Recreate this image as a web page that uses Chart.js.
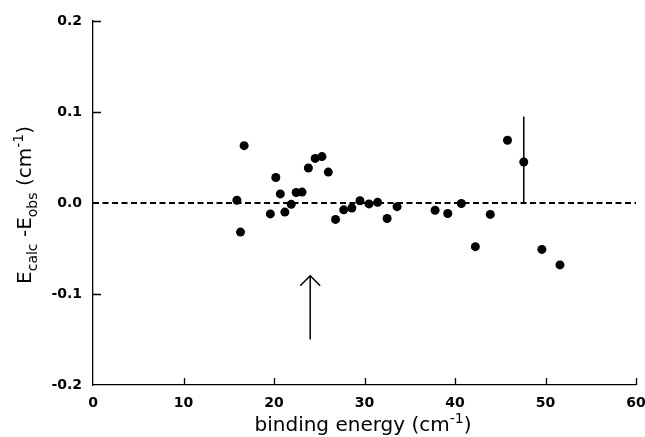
<!DOCTYPE html>
<html>
<head>
<meta charset="utf-8">
<script src="https://cdn.jsdelivr.net/npm/chart.js@4.4.1/dist/chart.umd.min.js"></script>
<style>
  html, body { margin: 0; background: #fff; }
  #wrap { width: 645px; height: 437px; }
</style>
</head>
<body>
<div id="wrap"><canvas id="myChart"></canvas></div>
<script>
// values
const bindingEnergy = [15.9, 16.3, 16.7, 19.6, 20.2, 20.7, 21.2, 21.9, 22.45, 23.1, 23.8, 24.55, 25.3, 26.0,
  26.8, 27.7, 28.6, 29.5, 30.5, 31.45, 32.5, 33.6, 37.8, 39.2, 40.7, 42.25, 43.9, 45.8, 47.6, 49.6, 51.6];
const residual = [0.003, -0.032, 0.063, -0.012, 0.028, 0.010, -0.010, -0.0015, 0.0115, 0.012, 0.0385, 0.049, 0.051, 0.034,
  -0.018, -0.0075, -0.0055, 0.0025, -0.001, 0.0007, -0.017, -0.004, -0.008, -0.0115, -0.0005, -0.048, -0.0125, 0.069, 0.045, -0.051, -0.068];

const xTicks = [0, 10, 20, 30, 40, 50, 60];
const yTicks = [-0.2, -0.1, 0.0, 0.1, 0.2];
const yTickLabels = ['-0.2', '-0.1', '0.0', '0.1', '0.2'];

// zero reference line, marker line at 47.6 and the arrow at 24
const zeroLineX = [0, 60];
const markerX = [47.6, 47.6];
const markerY = [0, 0.095];
const arrowX = [24, 24];
const arrowY = [-0.15, -0.08];
const arrowHeadX = [22.9, 24, 25.1];
const arrowHeadY = [-0.091, -0.08, -0.091];

const pts = (xs, ys) => xs.map((x, i) => ({ x: x, y: ys[i] }));

const tickFont = { family: 'DejaVu Sans', size: 14, weight: 'bold' };

function drawRich(ctx, parts, x, y, size) {
  const fontFor = p => (p.s ? Math.round(size * 0.68) : size) + 'px "DejaVu Sans"';
  let total = 0;
  parts.forEach(p => { ctx.font = fontFor(p); total += ctx.measureText(p.t).width; });
  let cx = x - total / 2;
  ctx.textAlign = 'left';
  ctx.textBaseline = 'alphabetic';
  parts.forEach(p => {
    ctx.font = fontFor(p);
    const dy = p.s === 'sub' ? size * 0.28 : p.s === 'sup' ? -size * 0.42 : 0;
    ctx.fillText(p.t, cx, y + dy);
    cx += ctx.measureText(p.t).width;
  });
}

const decorations = {
  id: 'decorations',
  afterDraw(chart) {
    const ctx = chart.ctx;
    const xs = chart.scales.x, ys = chart.scales.y;
    const area = chart.chartArea;
    ctx.save();
    ctx.strokeStyle = '#000';
    ctx.lineWidth = 1.3;
    ctx.beginPath();
    xTicks.slice(1).forEach(v => {
      const px = Math.round(xs.getPixelForValue(v)) + 0.5;
      ctx.moveTo(px, area.bottom);
      ctx.lineTo(px, area.bottom - 7);
    });
    [0.2, 0.1, -0.1].forEach(v => {
      const py = Math.round(ys.getPixelForValue(v)) + 0.5;
      ctx.moveTo(area.left, py);
      ctx.lineTo(area.left + 8, py);
    });
    ctx.stroke();

    ctx.fillStyle = '#000';
    drawRich(ctx, [{ t: 'binding energy (cm' }, { t: '-1', s: 'sup' }, { t: ')' }], 363, 431, 20);

    ctx.translate(31, 205);
    ctx.rotate(-Math.PI / 2);
    drawRich(ctx, [{ t: 'E' }, { t: 'calc', s: 'sub' }, { t: ' -E' }, { t: 'obs', s: 'sub' },
      { t: ' (cm' }, { t: '-1', s: 'sup' }, { t: ')' }], 0, 0, 20);
    ctx.restore();
  }
};

const ctx = document.getElementById('myChart');

new Chart(ctx, {
  type: 'scatter',
  data: {
    datasets: [
      {
        data: pts(zeroLineX, [0, 0]),
        showLine: true, borderColor: '#000', borderWidth: 1.8, borderDash: [6, 3.5],
        pointRadius: 0
      },
      {
        data: pts(markerX, markerY),
        showLine: true, borderColor: '#000', borderWidth: 1.5, pointRadius: 0
      },
      {
        data: pts(arrowX, arrowY),
        showLine: true, borderColor: '#000', borderWidth: 1.5, pointRadius: 0
      },
      {
        data: pts(arrowHeadX, arrowHeadY),
        showLine: true, borderColor: '#000', borderWidth: 1.5, pointRadius: 0
      },
      {
        data: pts(bindingEnergy, residual),
        backgroundColor: '#000', borderColor: '#000', pointRadius: 4.5, borderWidth: 0
      }
    ]
  },
  options: {
    responsive: true,
    maintainAspectRatio: false,
    animation: false,
    layout: { padding: { top: 21, right: 9, left: 0, bottom: 0 } },
    plugins: { legend: { display: false }, tooltip: { enabled: false } },
    scales: {
      x: {
        type: 'linear', min: 0, max: 60,
        afterBuildTicks: s => { s.ticks = xTicks.map(v => ({ value: v })); },
        afterFit: s => { s.height = 52; s.paddingLeft = 0; s.paddingRight = 0; },
        ticks: { font: tickFont, color: '#000', padding: 10, maxRotation: 0 },
        grid: { drawOnChartArea: false, drawTicks: false },
        border: { display: true, color: '#000', width: 1.3 }
      },
      y: {
        type: 'linear', min: -0.2, max: 0.2,
        afterBuildTicks: s => { s.ticks = yTicks.map(v => ({ value: v })); },
        afterFit: s => { s.width = 93; s.paddingTop = 0; s.paddingBottom = 0; },
        ticks: {
          font: tickFont, color: '#000', padding: 11,
          callback: (v) => yTickLabels[yTicks.findIndex(t => Math.abs(t - v) < 1e-9)]
        },
        grid: { drawOnChartArea: false, drawTicks: false },
        border: { display: true, color: '#000', width: 1.3 }
      }
    }
  },
  plugins: [decorations]
});
</script>
</body>
</html>
